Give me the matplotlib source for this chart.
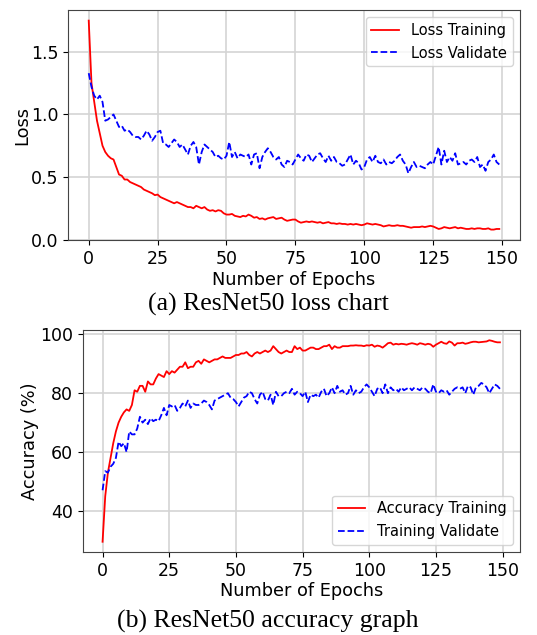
import numpy as np
import matplotlib.pyplot as plt

# loss values per epoch
loss_train = [1.75, 1.25, 1.10, 0.95, 0.85, 0.75, 0.70, 0.67, 0.65, 0.64,
              0.58, 0.52, 0.51, 0.48, 0.48, 0.46, 0.45, 0.44, 0.43, 0.42,
              0.40, 0.39, 0.38, 0.37, 0.355, 0.36, 0.34, 0.33, 0.32, 0.31,
              0.30, 0.29, 0.30, 0.29, 0.28, 0.27, 0.26, 0.26, 0.25, 0.27,
              0.26, 0.25, 0.26, 0.24, 0.23, 0.235, 0.225, 0.235, 0.23, 0.21,
              0.20, 0.20, 0.205, 0.19, 0.185, 0.18, 0.19, 0.185, 0.20, 0.19,
              0.175, 0.18, 0.165, 0.17, 0.16, 0.17, 0.175, 0.18, 0.165, 0.17,
              0.175, 0.16, 0.15, 0.155, 0.16, 0.16, 0.145, 0.135, 0.14, 0.145,
              0.14, 0.145, 0.14, 0.135, 0.14, 0.13, 0.135, 0.14, 0.13, 0.13,
              0.125, 0.13, 0.125, 0.125, 0.12, 0.125, 0.12, 0.125, 0.12, 0.115,
              0.12, 0.13, 0.125, 0.12, 0.125, 0.12, 0.115, 0.105, 0.11, 0.115,
              0.11, 0.11, 0.115, 0.11, 0.11, 0.105, 0.10, 0.095, 0.10, 0.10,
              0.10, 0.105, 0.10, 0.105, 0.11, 0.105, 0.095, 0.085, 0.09, 0.10,
              0.095, 0.09, 0.095, 0.10, 0.09, 0.095, 0.09, 0.085, 0.085, 0.09,
              0.085, 0.09, 0.09, 0.085, 0.085, 0.09, 0.08, 0.08, 0.085, 0.085]
loss_val = [1.33, 1.22, 1.15, 1.12, 1.15, 1.10, 0.95, 0.96, 0.98, 1.00,
            0.95, 0.90, 0.91, 0.87, 0.88, 0.86, 0.83, 0.82, 0.82, 0.80,
            0.83, 0.87, 0.84, 0.79, 0.82, 0.86, 0.87, 0.77, 0.76, 0.74,
            0.77, 0.80, 0.78, 0.74, 0.76, 0.72, 0.68, 0.75, 0.78, 0.74,
            0.60, 0.70, 0.76, 0.74, 0.72, 0.70, 0.66, 0.67, 0.65, 0.64,
            0.67, 0.78, 0.66, 0.70, 0.65, 0.68, 0.67, 0.66, 0.68, 0.60,
            0.68, 0.69, 0.57, 0.66, 0.70, 0.73, 0.70, 0.66, 0.64, 0.66,
            0.60, 0.58, 0.63, 0.62, 0.60, 0.64, 0.68, 0.65, 0.63, 0.68,
            0.67, 0.62, 0.65, 0.68, 0.69, 0.65, 0.62, 0.67, 0.63, 0.66,
            0.62, 0.61, 0.59, 0.60, 0.64, 0.68, 0.60, 0.63, 0.61, 0.56,
            0.58, 0.64, 0.66, 0.62, 0.67, 0.62, 0.61, 0.64, 0.60, 0.62,
            0.61, 0.63, 0.66, 0.68, 0.63, 0.60, 0.53, 0.58, 0.62, 0.58,
            0.59, 0.58, 0.57, 0.60, 0.62, 0.60, 0.67, 0.74, 0.60, 0.71,
            0.62, 0.66, 0.63, 0.69, 0.60, 0.61, 0.62, 0.60, 0.63, 0.64,
            0.62, 0.66, 0.58, 0.60, 0.55, 0.62, 0.64, 0.68, 0.62, 0.60]

# accuracy values per epoch (%)
acc_train = [29.5, 45.0, 53.0, 58.0, 63.0, 67.0, 70.0, 72.0, 73.5, 74.5,
             74.0, 76.0, 81.0, 80.5, 82.5, 82.5, 80.5, 84.0, 83.0, 83.0,
             85.0, 86.5, 86.0, 85.5, 87.5, 86.5, 87.5, 87.0, 88.0, 89.0,
             89.0, 90.5, 88.5, 89.0, 89.0, 90.5, 91.0, 90.0, 91.5, 91.0,
             90.5, 91.0, 91.5, 91.5, 92.0, 92.5, 92.0, 92.0, 92.0, 92.5,
             93.0, 93.0, 93.5, 93.5, 94.0, 93.0, 92.5, 93.5, 94.0, 93.5,
             94.0, 94.5, 94.0, 94.5, 96.0, 95.0, 94.0, 93.5, 94.0, 94.5,
             94.0, 94.0, 96.0, 95.0, 95.5, 94.5, 94.5, 95.0, 95.5, 95.5,
             95.0, 95.0, 95.5, 96.0, 96.0, 96.5, 95.0, 96.0, 95.5, 95.5,
             96.0, 96.0, 96.0, 96.2, 96.2, 96.3, 96.2, 96.2, 96.0, 96.3,
             96.2, 96.5, 95.8, 96.2, 96.0, 95.5, 96.2, 97.0, 97.2, 96.5,
             96.8, 96.6, 96.8, 96.7, 96.5, 96.8, 97.0, 96.8, 96.5, 97.0,
             96.8, 96.5, 96.8, 96.6, 95.8, 96.5, 97.0, 97.5, 97.0, 96.8,
             97.6, 97.2, 96.2, 97.0, 97.0, 97.2, 96.8, 97.0, 97.3, 97.5,
             97.5, 97.3, 97.4, 97.5, 97.6, 98.0, 97.8, 97.5, 97.3, 97.3]
acc_val = [47.0, 53.5, 53.0, 55.0, 56.0, 58.0, 63.5, 62.0, 63.0, 60.0,
           67.0, 66.0, 66.0, 68.0, 72.0, 70.0, 71.0, 69.5, 71.5, 70.5,
           71.0, 70.5, 72.5, 75.0, 72.5, 76.0, 75.5, 76.0, 74.0, 75.0,
           76.5, 75.5, 77.5, 75.0, 76.5, 76.0, 76.0, 76.5, 77.5, 77.0,
           76.0, 74.5, 77.5, 78.0, 78.5, 79.0, 79.5, 80.0, 78.5, 78.0,
           77.0, 75.5, 77.0, 78.5, 79.0, 80.5, 80.0, 78.0, 76.5, 79.5,
           80.5, 78.0, 77.5, 79.5, 76.0, 80.5, 79.0, 79.0, 80.0, 80.5,
           80.0, 81.5, 79.5, 80.5, 80.0, 79.0, 80.5, 77.0, 79.5, 79.0,
           79.5, 78.5, 80.5, 81.5, 79.0, 80.0, 82.0, 80.0, 82.5, 80.5,
           81.0, 79.5, 80.0, 82.5, 79.5, 81.0, 80.0, 80.5, 82.0, 83.0,
           82.0, 80.5, 79.0, 81.5, 82.0, 80.0, 83.0, 80.0, 82.0, 81.0,
           81.5, 80.5, 82.0, 81.0, 81.5, 82.0, 81.0, 82.0, 81.5, 81.0,
           82.0, 81.5, 80.5, 80.0, 83.0, 80.5, 80.0, 81.0, 80.5, 81.0,
           79.5, 80.5, 81.5, 82.0, 81.5, 82.0, 80.0, 82.5, 82.0, 79.5,
           82.0, 82.5, 83.5, 83.0, 82.0, 80.0, 81.5, 83.0, 82.5, 81.5]

epochs = np.arange(len(loss_train))

plt.rcParams.update({
    "font.family": "DejaVu Sans",
    "axes.labelsize": 12.8,
    "xtick.labelsize": 12.5,
    "ytick.labelsize": 12.5,
    "legend.fontsize": 10.5,
})

fig = plt.figure(figsize=(5.37, 6.35), dpi=100)

# top: loss
ax1 = fig.add_axes([0.127, 0.622, 0.841, 0.362])
ax1.plot(epochs, loss_train, color="red", lw=1.3, label="Loss Training")
ax1.plot(epochs, loss_val, color="blue", lw=1.3, ls="--", label="Loss Validate")
ax1.set_xlabel("Number of Epochs", labelpad=2)
ax1.set_ylabel("Loss", labelpad=0)
ax1.set_xticks([0, 25, 50, 75, 100, 125, 150])
ax1.set_yticks([0.0, 0.5, 1.0, 1.5])
ax1.grid(True, color="#d4d4d4", lw=1.2)
ax1.legend(loc="upper right", handlelength=1.9)

# bottom: accuracy
ax2 = fig.add_axes([0.154, 0.131, 0.814, 0.349])
ax2.plot(epochs, acc_train, color="red", lw=1.3, label="Accuracy Training")
ax2.plot(epochs, acc_val, color="blue", lw=1.3, ls="--", label="Training Validate")
ax2.set_xlabel("Number of Epochs", labelpad=2)
ax2.set_ylabel("Accuracy (%)", labelpad=1)
ax2.set_xticks([0, 25, 50, 75, 100, 125, 150])
ax2.set_yticks([40, 60, 80, 100])
ax2.grid(True, color="#d4d4d4", lw=1.2)
ax2.legend(loc="lower right", handlelength=1.9)

for ax in (ax1, ax2):
    for s in ax.spines.values():
        s.set_color("#444444")

# captions
fig.text(0.499, 0.520, "(a) ResNet50 loss chart", ha="center", va="center",
         family="Liberation Serif", fontsize=18.5)
fig.text(0.499, 0.021, "(b) ResNet50 accuracy graph", ha="center", va="center",
         family="Liberation Serif", fontsize=18.5)

fig.savefig("out.png", dpi=100)
